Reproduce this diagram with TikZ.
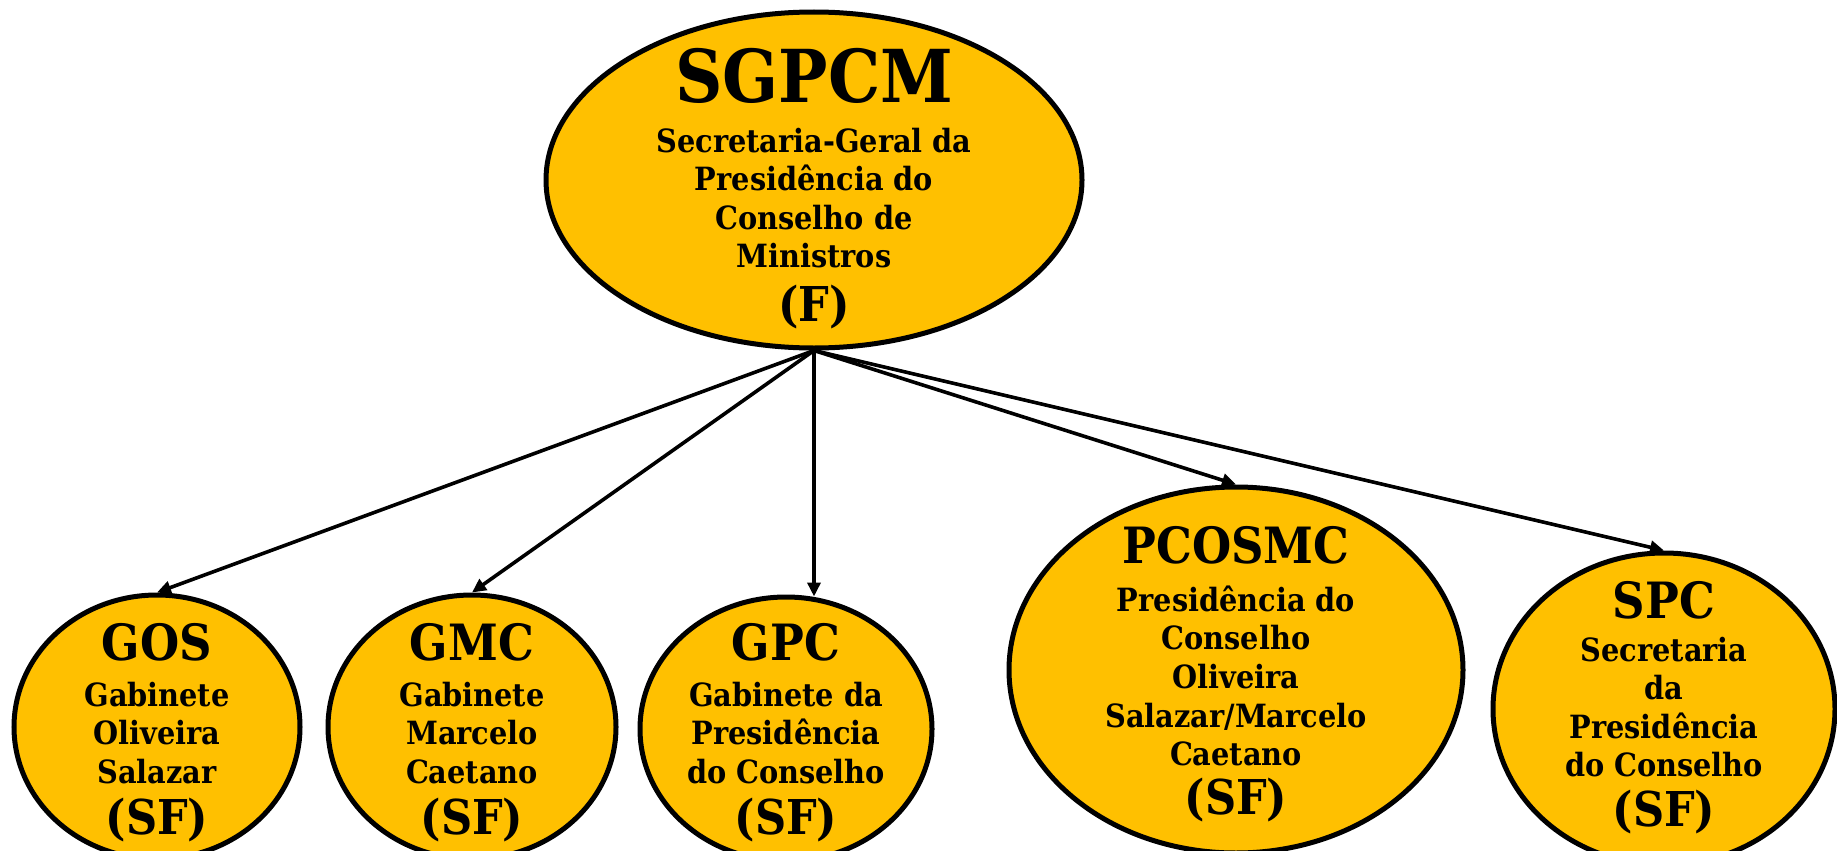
\documentclass[tikz,border=0pt]{standalone}
\usepackage{fontspec}
\setmainfont{DejaVu Serif}
\newfontfamily\condfont{DejaVu Serif Condensed}
\usetikzlibrary{shapes.geometric,arrows.meta}
\definecolor{gold}{HTML}{FFC000}
\tikzset{
  orgbox/.style={ellipse,draw=black,line width=5pt,fill=gold,inner sep=0pt},
  ttl/.style={font=\condfont\bfseries\fontsize{50}{56}\selectfont,inner sep=0pt,anchor=center},
  sftxt/.style={font=\condfont\bfseries\fontsize{48}{54}\selectfont,inner sep=0pt,anchor=center},
  bigttl/.style={font=\condfont\bfseries\fontsize{73}{80}\selectfont,inner sep=0pt,anchor=center},
  body/.style={font=\condfont\bfseries\fontsize{32}{38.6}\selectfont,inner sep=0pt,align=center,anchor=center},
  link/.style={line width=3.6pt,-{Triangle[length=14pt,width=13pt]}}
}
\begin{document}
\begin{tikzpicture}[x=1pt,y=-1pt]
\useasboundingbox (0,0) rectangle (1837,851);
% ellipses
\node[orgbox,minimum width=536pt,minimum height=336pt] (sgpcm) at (814,180) {};
\node[orgbox,minimum width=286pt,minimum height=264pt] (gos) at (157,727) {};
\node[orgbox,minimum width=288pt,minimum height=264pt] (gmc) at (472,727) {};
\node[orgbox,minimum width=292pt,minimum height=264pt] (gpc) at (786,729) {};
\node[orgbox,minimum width=454pt,minimum height=366pt] (pcosmc) at (1236,670) {};
\node[orgbox,minimum width=342pt,minimum height=312pt] (spc) at (1664,709) {};
% texts
\node[bigttl] (t0) at (814,76) {SGPCM};
\node[body] (b0) at (814,198) {Secretaria-Geral da\\Presidência do\\Conselho de\\Ministros};
\node[sftxt] (f0) at (814,307) {(F)};

\node[ttl] (t1) at (157,642) {GOS};
\node[body] (b1) at (157,733) {Gabinete\\Oliveira\\Salazar};
\node[sftxt] (f1) at (157,820) {(SF)};

\node[ttl] (t2) at (472,642) {GMC};
\node[body] (b2) at (472,733) {Gabinete\\Marcelo\\Caetano};
\node[sftxt] (f2) at (472,820) {(SF)};

\node[ttl] (t3) at (786,642) {GPC};
\node[body] (b3) at (786,733) {Gabinete da\\Presidência\\do Conselho};
\node[sftxt] (f3) at (786,820) {(SF)};

\node[ttl] (t4) at (1236,545) {PCOSMC};
\node[body] (b4) at (1236,676) {Presidência do\\Conselho\\Oliveira\\Salazar/Marcelo\\Caetano};
\node[sftxt] (f4) at (1236,800) {(SF)};

\node[ttl] (t5) at (1664,600) {SPC};
\node[body] (b5) at (1664,707) {Secretaria\\da\\Presidência\\do Conselho};
\node[sftxt] (f5) at (1664,812) {(SF)};
% connectors
\draw[link] (sgpcm.south) -- (gos.north);
\draw[link] (sgpcm.south) -- (gmc.north);
\draw[link] (sgpcm.south) -- ([yshift=-2pt]sgpcm.south |- gpc.north);
\draw[link] (sgpcm.south) -- (pcosmc.north);
\draw[link] (sgpcm.south) -- (spc.north);
\end{tikzpicture}
\end{document}
